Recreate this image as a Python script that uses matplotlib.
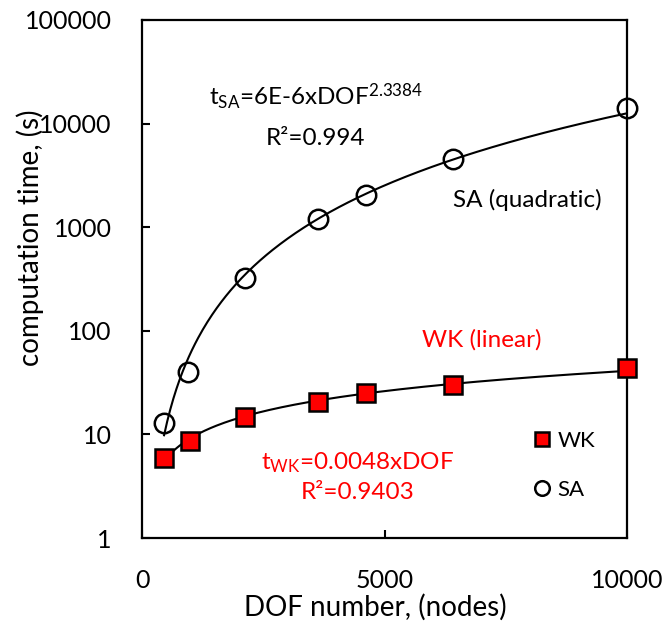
import matplotlib.pyplot as plt
import numpy as np

plt.rcParams['font.family'] = ['Lato', 'DejaVu Sans']

# data
dof_wk = np.array([454, 990, 2124, 3629, 4619, 6412, 10000])
time_wk = np.array([5.9, 8.6, 14.7, 20.5, 25.0, 30.0, 43.8])
dof_sa = np.array([454, 950, 2124, 3629, 4619, 6412, 10000])
time_sa = np.array([12.9, 40.0, 323, 1200, 2050, 4550, 14150])

xticks = [0, 5000, 10000]
yticks = [1, 10, 100, 1000, 10000, 100000]

fig = plt.figure(figsize=(6.67, 6.28), dpi=100)
ax = fig.add_axes([0.213, 0.1433, 0.727, 0.825])

# power trendlines (least squares in log-log, like Excel)
xx = np.linspace(dof_wk.min(), dof_wk.max(), 300)
for x, y in [(dof_sa, time_sa), (dof_wk, time_wk)]:
    b, a = np.polyfit(np.log(x), np.log(y), 1)
    ax.plot(xx, np.exp(a) * xx**b, color='black', lw=1.5, zorder=2)

ax.plot(dof_wk, time_wk, 's', ms=13, mfc='red', mec='black', mew=1.8,
        label='WK', zorder=3, clip_on=False)
ax.plot(dof_sa, time_sa, 'o', ms=14, mfc='none', mec='black', mew=1.8,
        label='SA', zorder=3, clip_on=False)

ax.set_yscale('log')
ax.set_xlim(0, 10000)
ax.set_ylim(1, 100000)
ax.set_xticks(xticks)
ax.set_xticklabels([str(v) for v in xticks])
ax.set_yticks(yticks)
ax.set_yticklabels([str(v) for v in yticks])
ax.minorticks_off()
ax.tick_params(direction='in', length=6, width=1.5, labelsize=18, pad=22)
for s in ax.spines.values():
    s.set_linewidth(1.6)

ax.set_xlabel('DOF number, (nodes)', fontsize=20)
ax.set_ylabel('computation time, (s)', fontsize=20)
ax.xaxis.set_label_coords(0.48, -0.108)
ax.yaxis.set_label_coords(-0.202, 0.58)

fs = 17.5
ax.text(0.358, 0.851, r'$\mathregular{t_{SA}}$=6E-6xDOF$\mathregular{^{2.3384}}$',
        transform=ax.transAxes, ha='center', va='center', fontsize=fs)
ax.text(0.358, 0.772, 'R²=0.994', transform=ax.transAxes, ha='center',
        va='center', fontsize=fs)
ax.text(0.794, 0.652, 'SA (quadratic)', transform=ax.transAxes, ha='center',
        va='center', fontsize=fs)
ax.text(0.70, 0.382, 'WK (linear)', transform=ax.transAxes, ha='center',
        va='center', fontsize=fs, color='red')
ax.text(0.445, 0.145, r'$\mathregular{t_{WK}}$=0.0048xDOF', transform=ax.transAxes,
        ha='center', va='center', fontsize=fs, color='red')
ax.text(0.445, 0.087, 'R²=0.9403', transform=ax.transAxes, ha='center',
        va='center', fontsize=fs, color='red')

ax.legend(loc='center left', bbox_to_anchor=(0.76, 0.14), frameon=False,
          fontsize=16, handletextpad=0.2, labelspacing=1.3, markerscale=0.75,
          handlelength=1.0)

fig.savefig('out.png', dpi=100)
